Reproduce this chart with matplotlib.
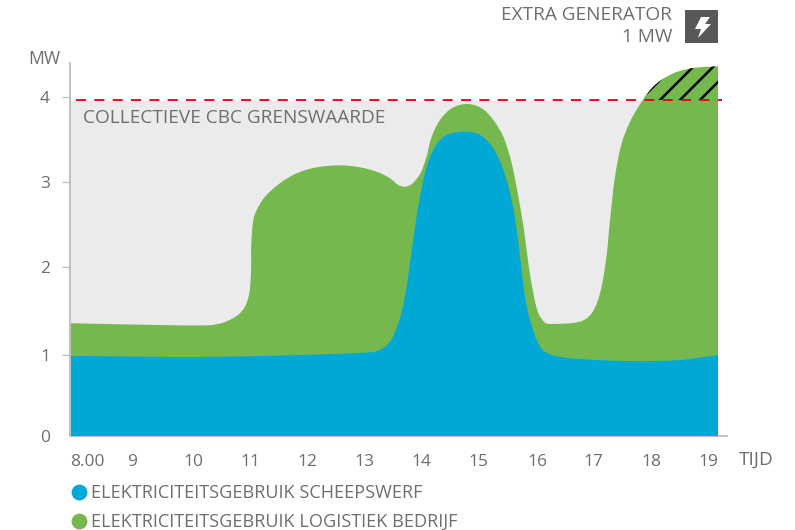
import matplotlib
matplotlib.use('Agg')
import numpy as np
import matplotlib.pyplot as plt
from matplotlib.lines import Line2D
from matplotlib.patches import Rectangle, Polygon, PathPatch
from matplotlib.path import Path
from matplotlib.transforms import Affine2D

plt.rcParams['font.family'] = ['Open Sans', 'Lato', 'DejaVu Sans']
plt.rcParams['hatch.linewidth'] = 1.5

# hours, MW
green_x = [7.825, 9.088, 10.228, 10.491, 10.737, 10.877, 10.953, 10.982, 10.988, 11.023,
           11.082, 11.228, 11.491, 11.784, 12.135, 12.544, 12.895, 13.188, 13.421,
           13.567, 13.684, 13.802, 13.947, 14.053, 14.153, 14.298, 14.504, 14.767, 15.03,
           15.233, 15.409, 15.556, 15.672, 15.772, 15.847, 15.935, 16.023, 16.14, 16.228,
           16.754, 16.96, 17.105, 17.211, 17.281, 17.368, 17.486, 17.632, 17.837, 18.07,
           18.391, 18.742, 19.175]
green_top = [1.331, 1.314, 1.307, 1.338, 1.42, 1.527, 1.688, 1.924, 2.279, 2.55,
             2.668, 2.825, 2.984, 3.102, 3.172, 3.196, 3.172, 3.12, 3.043,
             2.963, 2.943, 2.975, 3.093, 3.279, 3.534, 3.731, 3.869, 3.92, 3.869,
             3.731, 3.534, 3.22, 2.825, 2.432, 2.043, 1.688, 1.452, 1.338, 1.322,
             1.35, 1.449, 1.685, 2.078, 2.55, 3.061, 3.456, 3.711, 3.947, 4.144,
             4.282, 4.345, 4.365]

blue_x = [7.825, 10.088, 11.842, 13.07, 13.246, 13.421, 13.567, 13.684, 13.772, 13.86,
          13.947, 14.065, 14.211, 14.416, 14.737, 15.0, 15.233, 15.409, 15.556, 15.644,
          15.714, 15.789, 15.877, 16.053, 16.258, 16.754, 17.632, 18.509, 19.175]
blue_top = [0.945, 0.933, 0.956, 0.988, 1.015, 1.113, 1.331, 1.645, 2.043, 2.471,
            2.825, 3.179, 3.416, 3.554, 3.593, 3.554, 3.397, 3.14, 2.786, 2.432,
            2.043, 1.645, 1.37, 1.054, 0.956, 0.909, 0.885, 0.897, 0.956]

limit = 3.97
x_ticks = [8.11, 8.9, 9.98, 10.97, 11.98, 12.98, 13.98, 14.98, 16.0, 16.98, 18.0, 19.0]
x_labels = ['8.00', '9', '10', '11', '12', '13', '14', '15', '16', '17', '18', '19']
y_ticks = [0, 0.956, 2, 3, 4]
y_labels = ['0', '1', '2', '3', '4']
legend_labels = ['ELEKTRICITEITSGEBRUIK SCHEEPSWERF', 'ELEKTRICITEITSGEBRUIK LOGISTIEK BEDRIJF']

TEXT = '#6d6e70'
AXIS = '#bcbcbc'
BLUE = '#00a8d6'
GREEN = '#75b84e'
GREY = '#ebebeb'
RED = '#e2001a'

W, H = 795, 530


def smooth_area(xs, ys):
    # closed area down to 0, top edge drawn as bezier segments through the read points
    p = np.column_stack([xs, ys])
    scale = np.array([57.0, 84.7])
    q = p * scale
    tang = np.zeros_like(q)
    tang[1:-1] = q[2:] - q[:-2]
    tang[0] = q[1] - q[0]
    tang[-1] = q[-1] - q[-2]
    tang = tang / np.linalg.norm(tang, axis=1, keepdims=True)
    verts = [(xs[0], 0), tuple(p[0])]
    codes = [Path.MOVETO, Path.LINETO]
    for i in range(len(p) - 1):
        d = np.linalg.norm(q[i + 1] - q[i]) / 3
        verts += [tuple((q[i] + tang[i] * d) / scale), tuple((q[i + 1] - tang[i + 1] * d) / scale), tuple(p[i + 1])]
        codes += [Path.CURVE4] * 3
    verts += [(xs[-1], 0), (xs[0], 0)]
    codes += [Path.LINETO, Path.CLOSEPOLY]
    return Path(verts, codes)


fig = plt.figure(figsize=(W / 120, H / 120), dpi=120)
ax = fig.add_axes([70 / W, (H - 436) / H, 657 / W, 373 / H])
ax.set_xlim(7.807, 19.333)
ax.set_ylim(0, 4.404)

ax.fill_between([green_x[0], green_x[-1]], 0, limit - 0.01, color=GREY, lw=0, zorder=1)
green_patch = PathPatch(smooth_area(green_x, green_top), facecolor=GREEN, lw=0, zorder=2)
ax.add_patch(green_patch)
ax.add_patch(PathPatch(smooth_area(blue_x, blue_top), facecolor=BLUE, lw=0, zorder=3))
hatch_box = Rectangle((green_x[0], limit), green_x[-1] - green_x[0], 0.6,
                      facecolor='none', edgecolor='black', hatch='//', lw=0, zorder=4)
ax.add_patch(hatch_box)
hatch_box.set_clip_path(green_patch)
ax.plot([7.92, 19.24], [limit, limit], color=RED, lw=1.1, dashes=(5.5, 4.5), zorder=5)

for s in ['top', 'right']:
    ax.spines[s].set_visible(False)
ax.spines['left'].set_color(AXIS)
ax.spines['bottom'].set_color(AXIS)
ax.spines['left'].set_linewidth(1.1)
ax.spines['bottom'].set_linewidth(1.1)
ax.set_axisbelow(False)

ax.set_xticks(x_ticks, x_labels)
ax.set_yticks(y_ticks, y_labels)
ax.tick_params(axis='x', length=0, pad=10.5, labelsize=10.4, labelcolor=TEXT)
ax.tick_params(axis='y', length=5, width=0.7, color=AXIS, pad=7, labelsize=10.4, labelcolor=TEXT)
ax.yaxis.get_major_ticks()[0].tick1line.set_visible(False)

px = Affine2D().scale(1, -1).translate(0, H)  # reference pixel coordinates
ax.text(83, 118, 'COLLECTIEVE CBC GRENSWAARDE', transform=px, color=TEXT, fontsize=11.4,
        va='center', ha='left', zorder=6)
fig.text(44, 59, 'MW', transform=px, color=TEXT, fontsize=10.6, va='center', ha='center')
fig.text(756, 460, 'TIJD', transform=px, color=TEXT, fontsize=11.4, va='center', ha='center')
fig.text(672, 15, 'EXTRA GENERATOR', transform=px, color=TEXT, fontsize=11.4, va='center', ha='right')
fig.text(672, 37, '1 MW', transform=px, color=TEXT, fontsize=11.4, va='center', ha='right')

# generator icon
fig.add_artist(Rectangle((685, 10), 33, 33, transform=px, color='#58585a', lw=0))
fig.add_artist(Polygon([(701, 17), (710, 17), (705, 24), (711, 24), (698, 38), (701, 29), (695, 29)],
                       transform=px, color='white', lw=0))

handles = [Line2D([], [], ls='', marker='o', ms=9.5, mfc=BLUE, mec='none'),
           Line2D([], [], ls='', marker='o', ms=9.5, mfc=GREEN, mec='none')]
fig.legend(handles, legend_labels, loc='upper left', bbox_to_anchor=(70 / W, 1 - 484 / H),
           frameon=False, fontsize=10.9, labelcolor=TEXT, handlelength=1.0, handletextpad=0.15,
           labelspacing=0.6, borderpad=0, borderaxespad=0)

fig.savefig('out.png', dpi=120)
